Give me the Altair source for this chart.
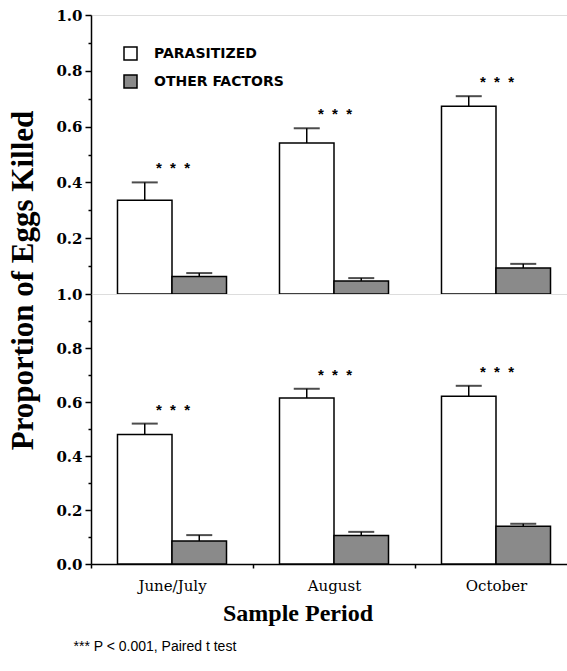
import altair as alt
import pandas as pd

periods = ["June/July", "August", "October"]
series = ["PARASITIZED", "OTHER FACTORS"]
fills = ["#ffffff", "#8a8a8a"]

top_parasitized = [0.336, 0.541, 0.673]
top_parasitized_se = [0.064, 0.053, 0.036]
top_other = [0.063, 0.047, 0.093]
top_other_se = [0.012, 0.010, 0.015]

bottom_parasitized = [0.480, 0.615, 0.621]
bottom_parasitized_se = [0.040, 0.034, 0.039]
bottom_other = [0.085, 0.106, 0.140]
bottom_other_se = [0.022, 0.013, 0.009]

top_ticks = [0.1, 0.2, 0.3, 0.4, 0.5, 0.6, 0.7, 0.8, 0.9, 1.0]
bottom_ticks = [0.0, 0.1, 0.2, 0.3, 0.4, 0.5, 0.6, 0.7, 0.8, 0.9, 1.0]

NB = "\u00a0"
star_text = "*" + NB * 2 + "*" + NB * 2 + "*"
footnote = "*** P < 0.001, Paired t test"


def frame(par, par_se, oth, oth_se):
    rows = []
    for i, p in enumerate(periods):
        rows.append({"period": p, "series": series[0], "mean": par[i], "upper": par[i] + par_se[i]})
        rows.append({"period": p, "series": series[1], "mean": oth[i], "upper": oth[i] + oth_se[i]})
    return pd.DataFrame(rows)


SERIF = "Liberation Serif"
LABEL_SERIF = "DejaVu Serif"


def panel(df, ticks, height, is_bottom):
    xscale = alt.Scale(domain=periods, paddingInner=0, paddingOuter=0)
    if is_bottom:
        xaxis = alt.Axis(
            title="Sample Period", tickBand="extent", labelAngle=0, grid=False,
            labelFont=LABEL_SERIF, labelFontSize=15, labelColor="black",
            labelPadding=10, tickSize=4, tickColor="black", tickWidth=1.5,
            domainColor="black", domainWidth=1.5,
            titleFont=SERIF, titleFontSize=24, titleFontWeight="bold", titleColor="black",
            titleX=206.5, titleY=56, titleAlign="center", titleBaseline="alphabetic",
        )
    else:
        xaxis = None
    x = alt.X("period:N", sort=periods, scale=xscale, axis=xaxis)
    xo = alt.XOffset("series:N", sort=series,
                     scale=alt.Scale(domain=series, paddingInner=0, paddingOuter=0.486))
    yaxis = alt.Axis(
        values=ticks, grid=False,
        labelExpr="(round(datum.value*10) % 2 == 0) ? format(datum.value, '.1f') : ''",
        tickSize={"condition": {"test": "round(datum.value*10) % 2 == 1", "value": 3}, "value": 6},
        tickColor="black", tickWidth=1.5, domainColor="black", domainWidth=1.5,
        labelFont=LABEL_SERIF, labelFontSize=15, labelFontWeight="bold", labelColor="black",
        labelPadding=3,
        title="Proportion of Eggs Killed" if is_bottom else "",
        titleFont=SERIF, titleFontSize=31, titleFontWeight="bold", titleColor="black",
        titleX=-68, titleY=-14, titleAlign="center", titleBaseline="middle", titleAngle=270,
    )
    yscale = alt.Scale(domain=[0, 1], nice=False, zero=True)

    def Y(field):
        return alt.Y(field, type="quantitative", scale=yscale, axis=yaxis)

    if is_bottom:
        legend = None
    else:
        legend = alt.Legend(
            title=None, orient="none", legendX=32, legendY=31,
            symbolType="square", symbolSize=169, symbolStrokeColor="black", symbolStrokeWidth=1.5,
            labelFont="DejaVu Sans", labelFontSize=14, labelFontWeight="bold", labelColor="black",
            labelOffset=16, rowPadding=9,
        )
    color = alt.Color("series:N", sort=series, scale=alt.Scale(domain=series, range=fills), legend=legend)

    base = alt.Chart(df)
    bars = base.mark_bar(stroke="black", strokeWidth=1.5).encode(x=x, xOffset=xo, y=Y("mean"), color=color)
    err = base.mark_rule(color="black", strokeWidth=1.5).encode(x=x, xOffset=xo, y=Y("mean"), y2="upper:Q")
    cap = base.mark_tick(color="black", thickness=2, size=26).encode(x=x, xOffset=xo, y=Y("upper"))
    stars = base.transform_filter(alt.datum.series == series[0]).mark_text(
        text=star_text, font="Liberation Sans", fontSize=15, fontWeight="bold", color="black",
        baseline="middle", dy=-14, dx=1,
    ).encode(x=x, y=Y("upper"))
    return alt.layer(bars, err, cap, stars).properties(width=486, height=height)


top = panel(frame(top_parasitized, top_parasitized_se, top_other, top_other_se), top_ticks, 279, False)
bottom = panel(frame(bottom_parasitized, bottom_parasitized_se, bottom_other, bottom_other_se), bottom_ticks, 270, True)

chart = alt.vconcat(top, bottom, spacing=0, bounds="flush").resolve_scale(color="independent").properties(
    title=alt.TitleParams(footnote, orient="bottom", anchor="start", font="Liberation Sans",
                          fontSize=14, fontWeight="normal", color="black", offset=14, dx=67),
    padding={"left": 6, "top": 7, "right": -12, "bottom": 10},
).configure_view(stroke="black", strokeWidth=1.5).configure(background="white")

chart.save("out.html", embed_options={"renderer": "svg", "actions": False})
